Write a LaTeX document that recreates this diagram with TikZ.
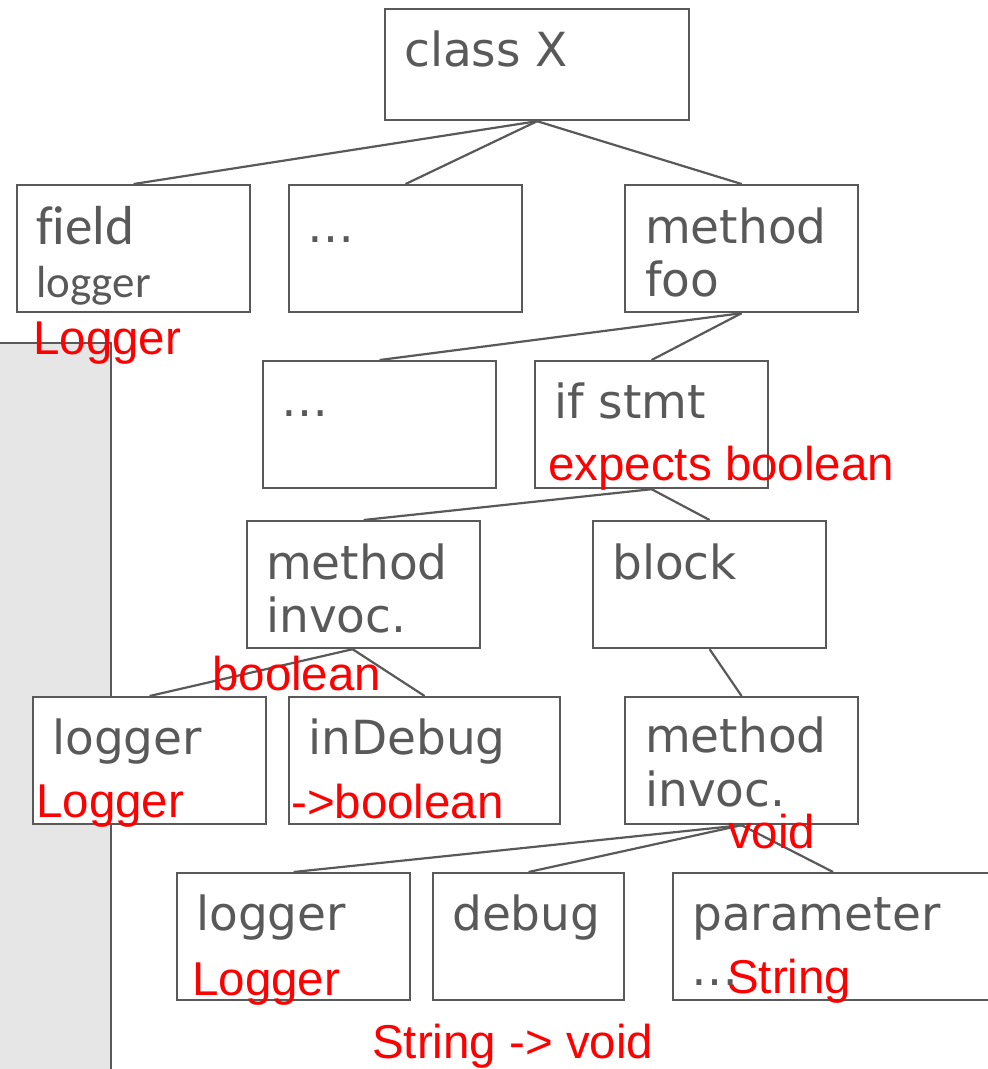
\documentclass[tikz,border=0pt]{standalone}
\usepackage{fontspec}
\setmainfont{DejaVu Sans}
\newfontfamily\redfont{Liberation Sans}
\newfontfamily\calfont[Ligatures=NoCommon]{Carlito}
\usetikzlibrary{calc}
\definecolor{ink}{HTML}{595959}
\definecolor{panelgrey}{HTML}{E6E6E6}
\definecolor{note}{HTML}{FF0000}
\tikzset{
  box/.style={draw=ink, line width=2.2pt, fill=white, inner sep=0, anchor=north west},
  link/.style={draw=ink, line width=2.2pt},
  lbl/.style={anchor=base west, inner sep=0, text=ink, font=\fontsize{47}{47}\selectfont},
  type/.style={anchor=base west, inner sep=0, text=note, font=\redfont\fontsize{47.5}{47.5}\selectfont},
}
\begin{document}
\begin{tikzpicture}[x=1pt, y=-1pt]
\useasboundingbox (0,0) rectangle (988,1069);
% side panel
\fill[panelgrey] (0,343) rectangle (111,1069);
\draw[ink, line width=2.2pt] (0,343) -- (111,343) -- (111,1069);

% tree boxes
\node[box, minimum width=304, minimum height=111] (cls) at (384,8) {};
\node[box, minimum width=233, minimum height=127] (fld) at (16,184) {};
\node[box, minimum width=233, minimum height=127] (dotsA) at (288,184) {};
\node[box, minimum width=233, minimum height=127] (foo) at (624,184) {};
\node[box, minimum width=233, minimum height=127] (dotsB) at (262,360) {};
\node[box, minimum width=233, minimum height=127] (ifs) at (534,360) {};
\node[box, minimum width=233, minimum height=127] (invA) at (246,520) {};
\node[box, minimum width=233, minimum height=127] (blk) at (592,520) {};
\node[box, minimum width=233, minimum height=127] (logA) at (32,696) {};
\node[box, minimum width=271, minimum height=127] (dbgA) at (288,696) {};
\node[box, minimum width=233, minimum height=127] (invB) at (624,696) {};
\node[box, minimum width=233, minimum height=127] (logB) at (176,872) {};
\node[box, minimum width=191, minimum height=127] (dbgB) at (432,872) {};
\node[box, minimum width=320, minimum height=127] (par) at (672,872) {};

% tree edges
\draw[link] (cls.south) -- (fld.north);
\draw[link] (cls.south) -- (dotsA.north);
\draw[link] (cls.south) -- (foo.north);
\draw[link] (foo.south) -- (dotsB.north);
\draw[link] (foo.south) -- (ifs.north);
\draw[link] (ifs.south) -- (invA.north);
\draw[link] (ifs.south) -- (blk.north);
\coordinate (invAfoot) at ($(invA.south)+(-11,0)$);
\draw[link] (invAfoot) -- (logA.north);
\draw[link] (invAfoot) -- (dbgA.north);
\draw[link] (blk.south) -- (invB.north);
\draw[link] (invB.south) -- (logB.north);
\draw[link] (invB.south) -- (dbgB.north);
\draw[link] (invB.south) -- (par.north);

% node labels
\node[lbl] (tCls) at (404,66) {class X};
\node[lbl, font=\calfont\fontsize{55}{55}\selectfont] (tFld) at (36,244) {field};
\node[lbl, font=\calfont\fontsize{45}{45}\selectfont] (tFldName) at (36,297) {logger};
\node[lbl] (tDotsA) at (307,242) {…};
\node[lbl] (tFoo1) at (645,243) {method};
\node[lbl] (tFoo2) at (645,296) {foo};
\node[lbl] (tDotsB) at (281,416) {…};
\node[lbl] (tIf) at (554,418) {if stmt};
\node[lbl] (tInvA1) at (266,579) {method};
\node[lbl] (tInvA2) at (266,632) {invoc.};
\node[lbl] (tBlk) at (612,579) {block};
\node[lbl] (tLogA) at (52,754) {logger};
\node[lbl] (tDbgA) at (308,754) {inDebug};
\node[lbl] (tInvB1) at (645,752) {method};
\node[lbl] (tInvB2) at (645,806) {invoc.};
\node[lbl] (tLogB) at (196,930) {logger};
\node[lbl] (tDbgB) at (452,930) {debug};
\node[lbl] (tPar) at (692,930) {parameter};
\node[lbl] (tParDots) at (691,985) {…};

% type annotations
\node[type] (yFld) at (33,354) {Logger};
\node[type] (yIf) at (548,480) {expects boolean};
\node[type] (yInvA) at (212,690) {boolean};
\node[type] (yLogA) at (36,817) {Logger};
\node[type] (yDbgA) at (291,818) {->boolean};
\node[type] (yInvB) at (728,848) {void};
\node[type] (yLogB) at (192,995) {Logger};
\node[type] (yPar) at (727,993) {String};
\node[type] (yDbgB) at (372,1058) {String -> void};
\end{tikzpicture}
\end{document}
